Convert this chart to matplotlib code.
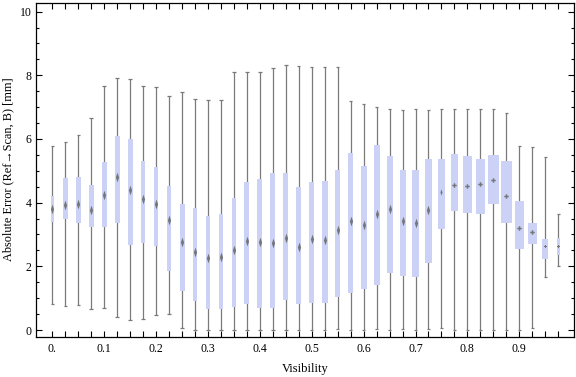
import matplotlib
matplotlib.use("Agg")
import matplotlib.pyplot as plt
from matplotlib.path import Path
from matplotlib.ticker import MultipleLocator

plt.rcParams['font.family'] = ['Liberation Serif', 'DejaVu Serif']

# ---- data ----
visibility = [round(0.025 * i, 3) for i in range(40)]
whisker_hi = [5.77, 5.89, 6.11, 6.65, 7.65, 7.90, 7.87, 7.65, 7.62, 7.34,
              7.46, 7.24, 7.21, 7.21, 8.11, 8.11, 8.11, 8.24, 8.31, 8.28,
              8.25, 8.25, 8.25, 7.18, 7.09, 6.99, 6.93, 6.90, 6.93, 6.90,
              6.93, 6.93, 6.93, 6.93, 6.93, 6.80, 5.77, 5.74, 5.43, 3.64]
q3 = [4.21, 4.77, 4.80, 4.55, 5.27, 6.09, 6.01, 5.31, 5.12, 4.52,
      3.96, 3.83, 3.58, 3.64, 4.14, 4.64, 4.73, 4.92, 4.92, 4.48,
      4.64, 4.67, 5.04, 5.55, 5.15, 5.80, 5.46, 5.02, 5.02, 5.37,
      5.37, 5.53, 5.46, 5.37, 5.49, 5.31, 4.05, 3.36, 2.85, 2.88]
median = [3.81, 3.92, 3.96, 3.76, 4.25, 4.81, 4.41, 4.12, 3.96, 3.44,
          2.76, 2.44, 2.26, 2.30, 2.50, 2.79, 2.77, 2.74, 2.88, 2.62,
          2.87, 2.83, 3.15, 3.42, 3.29, 3.65, 3.80, 3.41, 3.35, 3.76,
          4.33, 4.55, 4.53, 4.58, 4.71, 4.21, 3.19, 3.07, 2.63, 2.65]
q1 = [3.39, 3.49, 3.37, 3.23, 3.24, 3.37, 2.67, 2.74, 2.64, 1.86,
      1.23, 0.92, 0.67, 0.67, 0.73, 0.83, 0.70, 0.70, 0.93, 0.81,
      0.86, 0.86, 1.03, 1.17, 1.30, 1.42, 1.79, 1.71, 1.67, 2.11,
      3.18, 3.75, 3.68, 3.65, 3.97, 3.37, 2.55, 2.71, 2.24, 2.37]
whisker_lo = [0.81, 0.74, 0.77, 0.65, 0.68, 0.40, 0.30, 0.33, 0.46, 0.49,
              0.05, 0.00, 0.00, 0.00, 0.00, 0.00, 0.00, 0.00, 0.00, 0.00,
              0.00, 0.00, 0.03, 0.00, 0.00, 0.03, 0.00, 0.03, 0.00, 0.03,
              0.06, 0.00, 0.00, 0.00, 0.00, 0.00, 0.00, 0.06, 1.68, 2.00]
# box widths (visibility units)
box_widths = [0.0064, 0.0096, 0.0096, 0.0096, 0.0096, 0.0096, 0.0096, 0.0077, 0.0077, 0.0077,
              0.0096, 0.0077, 0.0083, 0.0083, 0.0090, 0.0096, 0.0096, 0.0096, 0.0096, 0.0102,
              0.0102, 0.0110, 0.0102, 0.0102, 0.0116, 0.0116, 0.0116, 0.0116, 0.0121, 0.0116,
              0.0121, 0.0135, 0.0173, 0.0173, 0.0212, 0.0212, 0.0173, 0.0173, 0.0116, 0.0064]
xtick_values = [0.0, 0.1, 0.2, 0.3, 0.4, 0.5, 0.6, 0.7, 0.8, 0.9]
xtick_labels = ['0.', '0.1', '0.2', '0.3', '0.4', '0.5', '0.6', '0.7', '0.8', '0.9']
ytick_values = [0, 2, 4, 6, 8, 10]
x_title = 'Visibility'
y_title = 'Absolute Error (Ref\u2192Scan, B) [mm]'

# ---- figure ----
W, H = 576, 377
fig = plt.figure(figsize=(W / 100, H / 100), dpi=100)
ax = fig.add_axes([36 / W, 1 - 337.3 / H, (574 - 36) / W, (337.3 - 3.3) / H])
ax.set_xlim(-0.0314, 1.0054)
ax.set_ylim(-0.229, 10.26)

box_color = '#CBD2F5'
wcol = '#7A7A7A'
cap = 0.0033

for i, x in enumerate(visibility):
    ax.vlines(x, whisker_lo[i], whisker_hi[i], color=wcol, lw=0.9, zorder=1)
    ax.hlines([whisker_lo[i], whisker_hi[i]], x - cap, x + cap, color=wcol, lw=0.9, zorder=1)
    ax.bar(x, q3[i] - q1[i], bottom=q1[i], width=box_widths[i], color=box_color,
           edgecolor='none', zorder=2)

diamond = Path([(0, 1), (0.33, 0), (0, -1), (-0.33, 0), (0, 1)],
               [Path.MOVETO, Path.LINETO, Path.LINETO, Path.LINETO, Path.CLOSEPOLY])
for i, x in enumerate(visibility):
    if i <= 29:
        ms = 7.0
    elif i <= 30:
        ms = 4.5
    elif i <= 37:
        ms = 3.2
    else:
        ms = 2.2
    ax.plot([x], [median[i]], marker=diamond if i <= 30 else 'P', ms=ms,
            color='#6C6C6C', mew=0, zorder=3, alpha=0.9)

# ticks
lab = []
for v in visibility:
    m = [l for t, l in zip(xtick_values, xtick_labels) if abs(t - v) < 1e-6]
    lab.append(m[0] if m else '')
ax.set_xticks(visibility)
ax.set_xticklabels(lab, fontsize=8.5)
ax.set_yticks(ytick_values)
ax.set_yticklabels([str(v) for v in ytick_values], fontsize=8.5)
ax.yaxis.set_minor_locator(MultipleLocator(0.5))
ax.tick_params(axis='both', which='major', direction='in', length=4, width=0.8,
               top=True, right=True, pad=3)
ax.tick_params(axis='y', which='minor', direction='in', length=2.5, width=0.8, right=True)
ax.tick_params(axis='x', which='both', pad=4)
for s in ax.spines.values():
    s.set_linewidth(0.9)

ax.set_xlabel(x_title, fontsize=9, labelpad=6)
fig.text(8.5 / W, 1 - 169 / H, y_title, rotation=90, ha='center', va='center', fontsize=8.8)

fig.savefig('out.png', dpi=100)
